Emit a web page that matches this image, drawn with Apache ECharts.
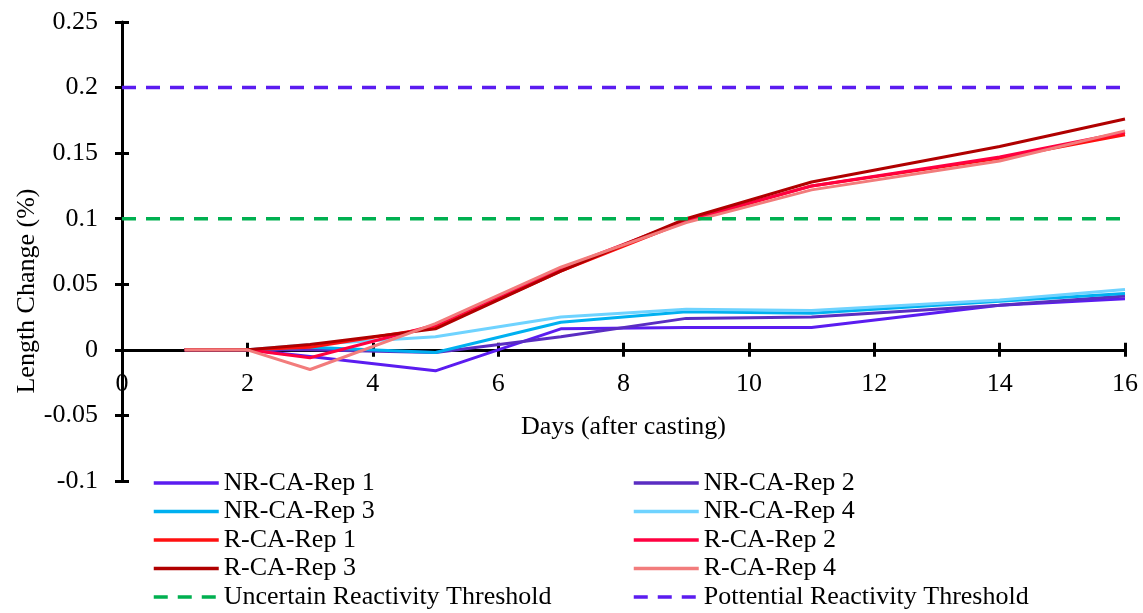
<!DOCTYPE html>
<html>
<head>
<meta charset="utf-8">
<script src="https://cdn.jsdelivr.net/npm/echarts@6/dist/echarts.min.js"></script>
<style>
  html, body { margin: 0; padding: 0; background: #fff; }
  #chart { width: 1143px; height: 613px; }
</style>
</head>
<body>
<div id="chart"></div>
<script>
// Days after casting
const days = [1, 2, 3, 5, 7, 9, 11, 14, 16];

// Length change (%) per specimen
const nrRep1 = [0, 0, -0.005, -0.016, 0.016, 0.017, 0.017, 0.034, 0.039];
const nrRep2 = [0, 0, 0.000, -0.002, 0.010, 0.024, 0.025, 0.034, 0.041];
const nrRep3 = [0, 0, 0.002, -0.002, 0.021, 0.029, 0.028, 0.037, 0.043];
const nrRep4 = [0, 0, 0.004, 0.010, 0.025, 0.031, 0.030, 0.038, 0.046];
const rRep1 = [0, 0, 0.002, 0.017, 0.060, 0.098, 0.125, 0.146, 0.164];
const rRep2 = [0, 0, -0.006, 0.019, 0.062, 0.099, 0.125, 0.147, 0.166];
const rRep3 = [0, 0, 0.004, 0.016, 0.060, 0.100, 0.128, 0.155, 0.176];
const rRep4 = [0, 0, -0.015, 0.020, 0.063, 0.097, 0.122, 0.144, 0.167];

// Threshold lines
const thresholdDays = [0, 16];
const uncertainLevel = 0.1;
const potentialLevel = 0.2;

const FONT = '"Liberation Serif", "Times New Roman", serif';

// Grid box, and how far the x axis sits above the bottom edge (the y = 0 line)
const GRID_TOP = 22;
const GRID_BOTTOM = 132;
const Y_MIN = -0.1;
const Y_MAX = 0.25;
const plotHeight = 613 - GRID_TOP - GRID_BOTTOM;
const zeroOffset = -plotHeight * (0 - Y_MIN) / (Y_MAX - Y_MIN);

// Build [x, y] pairs for a series
function pairs(xs, ys) {
    return xs.map((x, i) => [x, ys[i]]);
}

function lineSeries(name, values, color) {
    return {
        name: name,
        type: 'line',
        data: pairs(days, values),
        symbol: 'none',
        showSymbol: false,
        lineStyle: { color: color, width: 3 },
        itemStyle: { color: color },
        emphasis: { disabled: true }
    };
}

function thresholdSeries(name, level, color) {
    return {
        name: name,
        type: 'line',
        data: thresholdDays.map(d => [d, level]),
        symbol: 'none',
        showSymbol: false,
        lineStyle: { color: color, width: 3.5, type: [14, 10] },
        itemStyle: { color: color },
        emphasis: { disabled: true }
    };
}

const series = [
    lineSeries('NR-CA-Rep 1', nrRep1, '#5b1cf0'),
    lineSeries('NR-CA-Rep 2', nrRep2, '#5a2dc2'),
    lineSeries('NR-CA-Rep 3', nrRep3, '#00b0f0'),
    lineSeries('NR-CA-Rep 4', nrRep4, '#6fd3ff'),
    lineSeries('R-CA-Rep 1', rRep1, '#ff1010'),
    lineSeries('R-CA-Rep 2', rRep2, '#ff0040'),
    lineSeries('R-CA-Rep 3', rRep3, '#b00000'),
    lineSeries('R-CA-Rep 4', rRep4, '#f27c7c'),
    thresholdSeries('Uncertain Reactivity Threshold', uncertainLevel, '#00b050'),
    thresholdSeries('Pottential Reactivity Threshold', potentialLevel, '#5b1cf0')
];

const legendText = { fontFamily: FONT, fontSize: 26, color: '#000', lineHeight: 26 };

// Common legend settings; the symbol circle is hidden so only the line shows
function legendColumn(left, names) {
    return {
        orient: 'vertical',
        left: left,
        top: 470,
        padding: 0,
        itemWidth: 65,
        itemHeight: 14,
        itemGap: 2.5,
        selectedMode: false,
        itemStyle: { color: 'rgba(0,0,0,0)', borderWidth: 0, opacity: 0 },
        lineStyle: { width: 3.5 },
        textStyle: legendText,
        data: names
    };
}

const axisBlack = { color: '#000', width: 3 };

const option = {
    animation: false,
    backgroundColor: '#fff',
    grid: { left: 122, right: 18, top: GRID_TOP, bottom: GRID_BOTTOM, containLabel: false },
    xAxis: [
        {
            type: 'value',
            min: 0,
            max: 16,
            interval: 2,
            position: 'bottom',
            offset: zeroOffset,
            name: 'Days (after casting)',
            nameLocation: 'middle',
            nameGap: 64,
            nameTextStyle: { fontFamily: FONT, fontSize: 26, color: '#000' },
            axisLine: { show: true, onZero: false, lineStyle: axisBlack },
            axisTick: { show: true, inside: false, length: 7, lineStyle: axisBlack },
            axisLabel: { fontFamily: FONT, fontSize: 26, color: '#000', margin: 21 },
            splitLine: { show: false }
        },
        {
            type: 'value',
            min: 0,
            max: 16,
            interval: 2,
            position: 'bottom',
            offset: zeroOffset,
            axisLine: { show: false, onZero: false },
            axisTick: { show: true, inside: true, length: 7, lineStyle: axisBlack },
            axisLabel: { show: false },
            splitLine: { show: false }
        }
    ],
    yAxis: [
        {
            type: 'value',
            min: Y_MIN,
            max: Y_MAX,
            interval: 0.05,
            position: 'left',
            axisLine: { show: true, onZero: false, lineStyle: axisBlack },
            axisTick: { show: true, inside: false, length: 7, lineStyle: axisBlack },
            axisLabel: {
                fontFamily: FONT, fontSize: 26, color: '#000', margin: 24,
                formatter: v => String(parseFloat(v.toFixed(2)))
            },
            splitLine: { show: false }
        },
        {
            type: 'value',
            min: Y_MIN,
            max: Y_MAX,
            interval: 0.05,
            position: 'left',
            axisLine: { show: false, onZero: false },
            axisTick: { show: true, inside: true, length: 7, lineStyle: axisBlack },
            axisLabel: { show: false },
            splitLine: { show: false }
        }
    ],
    legend: [
        legendColumn(152, ['NR-CA-Rep 1', 'NR-CA-Rep 3', 'R-CA-Rep 1', 'R-CA-Rep 3', 'Uncertain Reactivity Threshold']),
        legendColumn(632, ['NR-CA-Rep 2', 'NR-CA-Rep 4', 'R-CA-Rep 2', 'R-CA-Rep 4', 'Pottential Reactivity Threshold'])
    ],
    graphic: [
        {
            type: 'text',
            x: 27,
            y: 291,
            rotation: Math.PI / 2,
            style: {
                text: 'Length Change (%)',
                fontFamily: FONT,
                fontSize: 26,
                fill: '#000',
                align: 'center',
                verticalAlign: 'middle'
            }
        }
    ],
    series: series
};

const chart = echarts.init(document.getElementById('chart'));
chart.setOption(option);
</script>
</body>
</html>
